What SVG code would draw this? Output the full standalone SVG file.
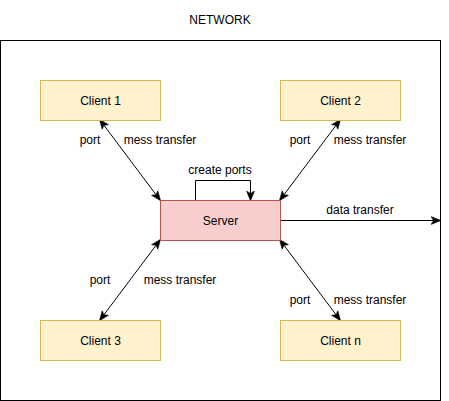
<svg xmlns="http://www.w3.org/2000/svg" width="449" height="401" viewBox="0 0 449 401">
<style>
text{font-family:"Liberation Sans",Arial,sans-serif;font-size:12px;fill:#000;text-anchor:middle}
.client{fill:#fff2cc;stroke:#d6b656;stroke-width:1}
.server{fill:#f8cecc;stroke:#b85450;stroke-width:1}
.edge{fill:none;stroke:#000;stroke-width:1}
</style>
<defs>
<marker id="arr" viewBox="0 0 10 10" refX="9" refY="5" markerWidth="10" markerHeight="10" markerUnits="userSpaceOnUse" orient="auto-start-reverse">
<path d="M0,1 L10,5 L0,9 L2.5,5 Z" fill="#000" stroke="#000" stroke-width="0.5"/>
</marker>
</defs>
<rect x="0.5" y="40.5" width="440" height="360" fill="#fff" stroke="#000"/>
<text x="220" y="24">NETWORK</text>
<g id="connectors">
<line class="edge" x1="100" y1="120" x2="160" y2="200" marker-start="url(#arr)" marker-end="url(#arr)"/>
<line class="edge" x1="340" y1="120" x2="280" y2="200" marker-start="url(#arr)" marker-end="url(#arr)"/>
<line class="edge" x1="100" y1="320" x2="160" y2="240" marker-start="url(#arr)" marker-end="url(#arr)"/>
<line class="edge" x1="340" y1="320" x2="280" y2="240" marker-start="url(#arr)" marker-end="url(#arr)"/>
<path class="edge" d="M195.5,200 V180.5 H250.5 V200" marker-end="url(#arr)"/>
<line class="edge" x1="280" y1="220.5" x2="440" y2="220.5" marker-end="url(#arr)"/>
<text x="220" y="174">create ports</text>
<text x="360" y="214">data transfer</text>
<text x="90" y="144">port</text>
<text x="160" y="144">mess transfer</text>
<text x="300" y="144">port</text>
<text x="370" y="144">mess transfer</text>
<text x="100" y="284">port</text>
<text x="180" y="284">mess transfer</text>
<text x="300" y="304">port</text>
<text x="370" y="304">mess transfer</text>
</g>
<g id="client1"><rect class="client" x="40.5" y="80.5" width="120" height="40"/><text x="100.5" y="104.5">Client 1</text></g>
<g id="client2"><rect class="client" x="280.5" y="80.5" width="120" height="40"/><text x="340.5" y="104.5">Client 2</text></g>
<g id="client3"><rect class="client" x="40.5" y="320.5" width="120" height="40"/><text x="100.5" y="344.5">Client 3</text></g>
<g id="clientn"><rect class="client" x="280.5" y="320.5" width="120" height="40"/><text x="340.5" y="344.5">Client n</text></g>
<g id="server"><rect class="server" x="160.5" y="200.5" width="120" height="40"/><text x="220.5" y="224.5">Server</text></g>
</svg>
